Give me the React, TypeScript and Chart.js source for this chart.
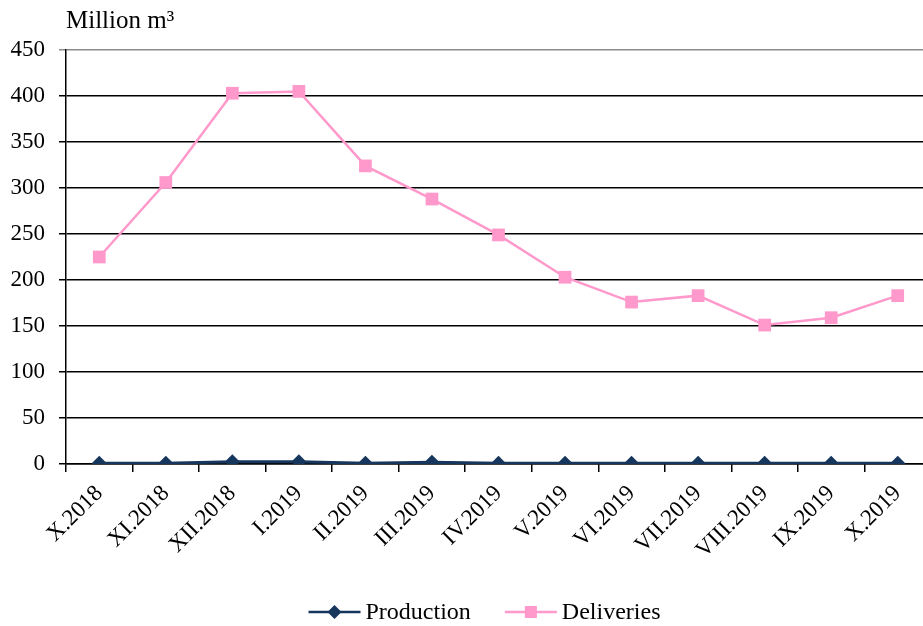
import React, { useEffect, useRef } from "react";
import { Chart, registerables } from "chart.js";

Chart.register(...registerables);

const categories = [
  "X.2018", "XI.2018", "XII.2018", "I.2019", "II.2019", "III.2019", "IV.2019",
  "V.2019", "VI.2019", "VII.2019", "VIII.2019", "IX.2019", "X.2019",
];
const production = [0.7, 0.7, 2.5, 2.5, 0.7, 2, 0.7, 0.7, 0.7, 0.7, 0.7, 0.7, 0.7];
const deliveries = [225, 306, 403, 405, 324, 288, 249, 203, 176, 183, 151, 159, 183];
const yTicks = [0, 50, 100, 150, 200, 250, 300, 350, 400, 450];
const unitLabel = "Million m³";

const FONT = "'Liberation Serif', 'Times New Roman', serif";
const NAVY = "#17365d";
const PINK = "#ff99cc";

const customPlugin = {
  id: "customDecor",
  afterDraw(chart: any) {
    const ctx = chart.ctx;
    const area = chart.chartArea;
    ctx.save();
    // unit title
    ctx.fillStyle = "#000";
    ctx.font = `25px ${FONT}`;
    ctx.textBaseline = "alphabetic";
    ctx.textAlign = "left";
    ctx.fillText(unitLabel, area.left, 28);

    // legend
    ctx.font = `24px ${FONT}`;
    const items = chart.data.datasets.map((d: any) => ({
      label: d.label,
      color: d.borderColor,
      style: d.pointStyle,
      w: ctx.measureText(d.label).width,
    }));
    const lineLen = 52;
    const gapText = 5;
    const gapItems = 34;
    let total = 0;
    items.forEach((it: any, i: number) => {
      total += lineLen + gapText + it.w + (i < items.length - 1 ? gapItems : 0);
    });
    const cx = (area.left + area.right) / 2 - 14;
    let x = cx - total / 2;
    const y = 612;
    items.forEach((it: any) => {
      ctx.strokeStyle = it.color;
      ctx.lineWidth = 2.5;
      ctx.beginPath();
      ctx.moveTo(x, y);
      ctx.lineTo(x + lineLen, y);
      ctx.stroke();
      ctx.fillStyle = it.color;
      const mx = x + lineLen / 2;
      if (it.style === "rectRot") {
        ctx.beginPath();
        ctx.moveTo(mx, y - 7);
        ctx.lineTo(mx + 7, y);
        ctx.lineTo(mx, y + 7);
        ctx.lineTo(mx - 7, y);
        ctx.closePath();
        ctx.fill();
      } else {
        ctx.fillRect(mx - 6, y - 6, 12, 12);
      }
      ctx.fillStyle = "#000";
      ctx.textBaseline = "middle";
      ctx.fillText(it.label, x + lineLen + gapText, y + 1);
      x += lineLen + gapText + it.w + gapItems;
    });
    ctx.restore();
  },
};

export default function App() {
  const ref = useRef<HTMLCanvasElement | null>(null);
  useEffect(() => {
    if (!ref.current) return;
    const chart = new Chart(ref.current, {
      type: "line",
      data: {
        labels: categories,
        datasets: [
          {
            label: "Production",
            data: production,
            borderColor: NAVY,
            backgroundColor: NAVY,
            borderWidth: 3,
            pointStyle: "rectRot",
            pointRadius: 7.5,
            pointBorderWidth: 0,
            tension: 0,
            order: 0,
          },
          {
            label: "Deliveries",
            data: deliveries,
            borderColor: PINK,
            backgroundColor: PINK,
            borderWidth: 2.5,
            pointStyle: "rect",
            pointRadius: 9,
            pointBorderWidth: 0,
            tension: 0,
            order: 1,
          },
        ],
      },
      options: {
        animation: false,
        responsive: false,
        maintainAspectRatio: false,
        layout: { padding: { top: 50, right: 7, left: 0, bottom: 0 } },
        plugins: {
          legend: { display: false },
          title: { display: false },
          tooltip: { enabled: false },
        },
        scales: {
          x: {
            type: "category",
            offset: true,
            grid: {
              offset: true,
              drawOnChartArea: false,
              drawTicks: true,
              tickLength: 8,
              color: "#000",
              lineWidth: 1.5,
            },
            border: { display: true, color: "#000", width: 1.5 },
            ticks: {
              color: "#000",
              font: { family: FONT, size: 23 },
              minRotation: 45,
              maxRotation: 45,
              padding: 8,
              autoSkip: false,
            },
            afterFit(scale: any) {
              scale.height = 162;
            },
          },
          y: {
            min: 0,
            max: 450,
            afterBuildTicks(scale: any) {
              scale.ticks = yTicks.map((v) => ({ value: v }));
            },
            grid: {
              color: (c: any) => (c.tick && c.tick.value === 450 ? "#8c8c8c" : "#000"),
              lineWidth: 1.5,
              tickLength: 7,
            },
            border: { display: true, color: "#000", width: 1.5 },
            ticks: {
              color: "#000",
              font: { family: FONT, size: 23 },
              padding: 14,
            },
            afterFit(scale: any) {
              scale.width = 66;
            },
          },
        },
      },
      plugins: [customPlugin],
    });
    return () => chart.destroy();
  }, []);
  return (
    <div
      style={{
        position: "absolute",
        left: 0,
        top: 0,
        width: 923,
        height: 626,
        overflow: "hidden",
        background: "#fff",
      }}
    >
      <canvas ref={ref} width={940} height={626} style={{ width: 940, height: 626, display: "block" }} />
    </div>
  );
}
